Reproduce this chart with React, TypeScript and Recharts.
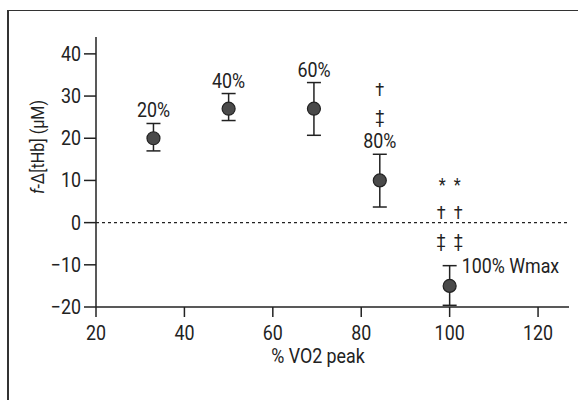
import React from 'react';
import {
    ScatterChart,
    Scatter,
    XAxis,
    YAxis,
    ErrorBar,
    ReferenceLine,
} from 'recharts';

// % VO2 peak at each workload
const vo2Peak = [33, 50, 69.3, 84.2, 100];
// mean f-Δ[tHb] (μM)
const tHbMean = [20, 27, 27, 10, -15];
// error bar ends
const tHbLow = [17, 24.2, 20.7, 3.7, -19.6];
const tHbHigh = [23.5, 30.6, 33.2, 16.2, -10.2];
// labels and significance marks
const workloadLabels = ['20%', '40%', '60%', '80%', '100% Wmax'];
const sigMarks: string[][] = [[], [], [], ['†', '‡'], ['* *', '† †', '‡ ‡']];

const xTicks = [20, 40, 60, 80, 100, 120];
const yTicks = [-20, -10, 0, 10, 20, 30, 40];

const FONT = "Roboto, 'Noto Sans', sans-serif";
const INK = '#222';

const means = vo2Peak.map((x, i) => ({
    x,
    y: tHbMean[i],
    err: [tHbMean[i] - tHbLow[i], tHbHigh[i] - tHbMean[i]],
}));

const caps = vo2Peak.map((x, i) => ({ x, y: tHbHigh[i], idx: i }));

// condensed-looking text (the source uses a narrow font)
const NText = ({ x, y, anchor = 'middle', size = 21, children, italic }: any) => (
    <text
        transform={`translate(${x} ${y}) scale(0.85 1)`}
        x={0}
        y={0}
        textAnchor={anchor}
        fill={INK}
        fontSize={size}
        fontFamily={FONT}
        fontStyle={italic ? 'italic' : undefined}
        xmlSpace="preserve"
    >
        {children}
    </text>
);

const Dot = (props: any) => (
    <circle cx={props.cx} cy={props.cy} r={6.5} fill="#4a4a4a" stroke={INK} strokeWidth={1.2} />
);

const CapLabel = (props: any) => {
    const { cx, cy, payload } = props;
    const i = payload.idx;
    const last = i === workloadLabels.length - 1;
    const marks = sigMarks[i];
    if (last) {
        return (
            <g>
                <NText x={cx + 12} y={cy + 7} anchor="start">{workloadLabels[i]}</NText>
                {marks.map((m, k) => (
                    <NText key={k} x={cx} y={cy - 19 - (marks.length - 1 - k) * 28} size={19}>
                        {m.replace(' ', '\u00a0\u00a0')}
                    </NText>
                ))}
            </g>
        );
    }
    return (
        <g>
            <NText x={cx} y={cy - 6}>{workloadLabels[i]}</NText>
            {marks.map((m, k) => (
                <NText key={k} x={cx} y={cy - 31 - (marks.length - 1 - k) * 27} size={19}>
                    {m}
                </NText>
            ))}
        </g>
    );
};

const XTick = (p: any) => (
    <NText x={p.x} y={p.y + 21}>{p.payload.value}</NText>
);

const YTick = (p: any) => {
    const v = p.payload.value;
    return <NText x={p.x} y={p.y + 7} anchor="end">{v < 0 ? '\u2212' + Math.abs(v) : String(v)}</NText>;
};

export default function App() {
    return (
        <div style={{ position: 'absolute', left: 0, top: 0, width: 578, height: 400, background: '#fff', overflow: 'hidden' }}>
            <div style={{ position: 'absolute', left: 7, top: 10, width: 600, height: 420, borderLeft: '2px solid #333', borderTop: '1px solid #333' }} />
            <ScatterChart width={578} height={400} margin={{ top: 37, right: 9, left: 36, bottom: 63 }} style={{ position: 'absolute', left: 0, top: 0 }}>
                <XAxis
                    type="number"
                    dataKey="x"
                    domain={[20, 127]}
                    ticks={xTicks}
                    allowDataOverflow
                    height={30}
                    stroke={INK}
                    strokeWidth={1.5}
                    tickSize={10}
                    tick={XTick}
                    label={{
                        content: () => <NText x={318} y={363}>% VO2 peak</NText>,
                    }}
                />
                <YAxis
                    type="number"
                    dataKey="y"
                    domain={[-20, 44]}
                    ticks={yTicks}
                    allowDataOverflow
                    width={60}
                    stroke={INK}
                    strokeWidth={1.5}
                    tickSize={12}
                    tickMargin={3}
                    tick={YTick}
                    label={{
                        content: () => (
                            <g transform="translate(44 147) rotate(-90)">
                                <text
                                    transform="scale(0.85 1)"
                                    textAnchor="middle"
                                    fill={INK}
                                    fontSize={19}
                                    fontFamily={FONT}
                                >
                                    <tspan fontStyle="italic">f</tspan>-Δ[tHb] (μM)
                                </text>
                            </g>
                        ),
                    }}
                />
                <ReferenceLine y={0} stroke={INK} strokeDasharray="3 3" strokeWidth={1.2} />
                <Scatter data={means} shape={Dot} isAnimationActive={false}>
                    <ErrorBar dataKey="err" direction="y" width={7} stroke={INK} strokeWidth={1.5} isAnimationActive={false} />
                </Scatter>
                <Scatter data={caps} shape={CapLabel} isAnimationActive={false} />
            </ScatterChart>
        </div>
    );
}
